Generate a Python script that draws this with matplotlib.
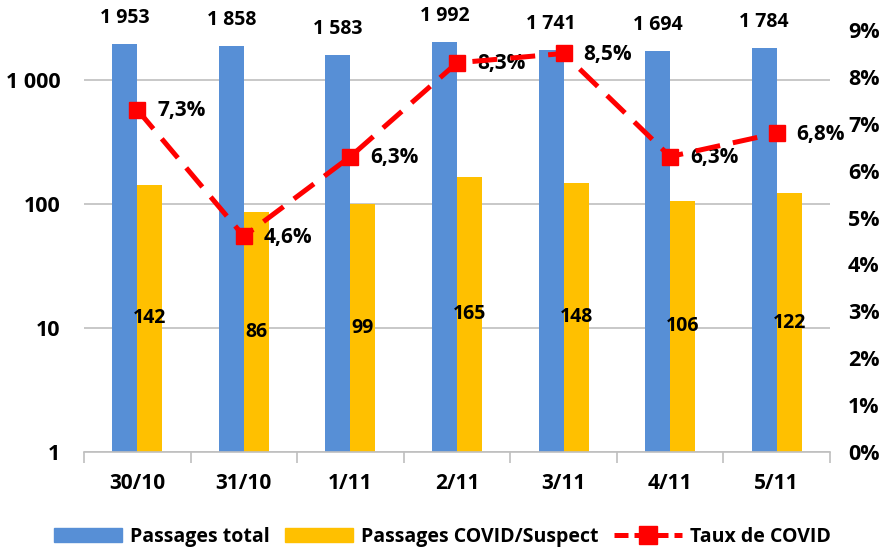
import matplotlib
matplotlib.use("Agg")
import matplotlib.pyplot as plt
import numpy as np
from matplotlib.patches import Patch
from matplotlib.lines import Line2D

dates = ["30/10", "31/10", "1/11", "2/11", "3/11", "4/11", "5/11"]
total = [1953, 1858, 1583, 1992, 1741, 1694, 1784]
covid = [142, 86, 99, 165, 148, 106, 122]
taux = [7.3, 4.6, 6.3, 8.3, 8.5, 6.3, 6.8]

blue = "#578FD6"
orange = "#FFC000"
red = "#FF0000"

plt.rcParams['font.family'] = ['Open Sans', 'DejaVu Sans']
plt.rcParams['font.weight'] = 'bold'

fig = plt.figure(figsize=(8.85, 5.52), dpi=100)
ax = fig.add_axes([84 / 885, 1 - 452 / 552, (830 - 84) / 885, 422 / 552])
ax.set_yscale('log')

x = np.arange(len(dates))
w = 0.235
ax.bar(x - w / 2, total, width=w, color=blue, zorder=2)
ax.bar(x + w / 2, covid, width=w, color=orange, zorder=2)

ax.set_xlim(-0.5, len(dates) - 0.5)
ax.set_ylim(1, 10 ** 3.4)
ax.set_yticks([1, 10, 100, 1000])
ax.set_yticklabels(["1", "10", "100", "1 000"], fontsize=15.5, fontweight='bold')
ax.yaxis.set_minor_locator(matplotlib.ticker.NullLocator())
ax.tick_params(axis='y', length=0, pad=17)
ax.grid(axis='y', which='major', color='#BFBFBF', lw=1.2, zorder=0)

ax.set_xticks(x)
ax.set_xticklabels(dates, fontsize=15, fontweight='bold')
ax.tick_params(axis='x', length=0, pad=15)
ax.set_xticks(np.arange(-0.5, len(dates)), minor=True)
ax.tick_params(axis='x', which='minor', length=8, color='#BFBFBF', width=1.2)

for s in ['top', 'right', 'left']:
    ax.spines[s].set_visible(False)
ax.spines['bottom'].set_color('#BFBFBF')
ax.spines['bottom'].set_linewidth(1.2)

for xi, v in zip(x, total):
    ax.annotate(f"{v:,}".replace(",", " "), (xi - w / 2, v), textcoords='offset pixels',
                xytext=(0, 16), ha='center', va='bottom', fontsize=14, fontweight='bold')
for xi, v in zip(x, covid):
    ax.text(xi + w / 2, np.sqrt(v), str(v), ha='center', va='center',
            fontsize=14, fontweight='bold', zorder=3)

ax2 = ax.twinx()
ax2.plot(x, [t / 100 for t in taux], color=red, lw=3.6, dashes=(5, 2.6),
         marker='s', markersize=12, zorder=4)
ax2.set_ylim(0, 0.09)
ax2.set_yticks([i / 100 for i in range(10)])
ax2.set_yticklabels([f"{i}%" for i in range(10)], fontsize=15.5, fontweight='bold')
ax2.tick_params(axis='y', length=0, pad=13)
for s in ['top', 'right', 'left', 'bottom']:
    ax2.spines[s].set_visible(False)
for xi, t in zip(x, taux):
    ax2.annotate(f"{t:.1f}%".replace(".", ","), (xi, t / 100), textcoords='offset pixels',
                 xytext=(20, -1), ha='left', va='center', fontsize=15, fontweight='bold')

handles = [Patch(color=blue), Patch(color=orange),
           Line2D([], [], color=red, lw=3.6, dashes=(2.8, 1.2), marker='s', markersize=13)]
fig.legend(handles, ["Passages total", "Passages COVID/Suspect", "Taux de COVID"],
           loc='center', bbox_to_anchor=(0.5, 1 - 537 / 552), ncol=3, frameon=False,
           fontsize=14, handlelength=3.5, handleheight=0.7, columnspacing=0.8,
           handletextpad=0.4)

fig.savefig("out.png", dpi=100)
